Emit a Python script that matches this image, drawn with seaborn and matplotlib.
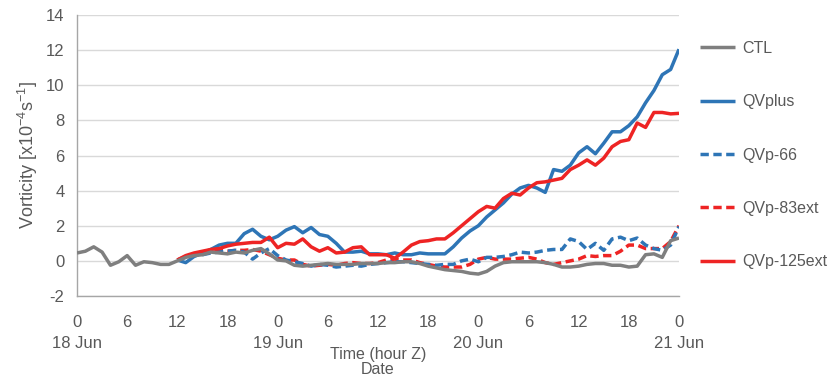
import numpy as np
import pandas as pd
import matplotlib
matplotlib.use("Agg")
import matplotlib.pyplot as plt
import seaborn as sns

# Hourly vorticity (x10^-4 s^-1), 18 Jun 00Z .. 21 Jun 00Z
hours = list(range(0, 73))

ctl = [0.45, 0.55, 0.8, 0.5, -0.25, -0.05, 0.3, -0.25, -0.05, -0.1, -0.2, -0.2,
       0.0, 0.2, 0.3, 0.35, 0.5, 0.45, 0.4, 0.5, 0.45, 0.6, 0.7, 0.4,
       0.05, 0.0, -0.25, -0.3, -0.25, -0.2, -0.15, -0.2, -0.2, -0.2, -0.15, -0.15,
       -0.15, -0.1, -0.1, -0.05, -0.05, -0.15, -0.3, -0.4, -0.5, -0.55, -0.6, -0.7,
       -0.75, -0.6, -0.3, -0.1, -0.05, -0.05, -0.05, -0.05, -0.1, -0.2, -0.35, -0.35,
       -0.3, -0.2, -0.15, -0.15, -0.25, -0.25, -0.35, -0.3, 0.35, 0.4, 0.2, 1.15,
       1.3]

# Sensitivity runs start from 18 Jun 12Z
start_hour = 12

qvplus = [0.05, -0.1, 0.25, 0.45, 0.65, 0.9, 1.0, 1.0, 1.55, 1.8, 1.4, 1.2,
          1.4, 1.75, 1.95, 1.6, 1.9, 1.5, 1.4, 1.0, 0.5, 0.5, 0.55, 0.4,
          0.4, 0.35, 0.45, 0.35, 0.35, 0.45, 0.4, 0.4, 0.4, 0.8, 1.3, 1.7,
          2.0, 2.5, 2.9, 3.3, 3.8, 4.15, 4.3, 4.15, 3.9, 5.2, 5.1, 5.45,
          6.15, 6.5, 6.1, 6.7, 7.35, 7.35, 7.7, 8.2, 9.0, 9.7, 10.6, 10.9,
          12.05]

qvp_66 = [0.05, 0.2, 0.3, 0.35, 0.45, 0.5, 0.55, 0.6, 0.5, 0.1, 0.45, 0.7,
          0.3, 0.05, -0.05, -0.15, -0.3, -0.2, -0.25, -0.35, -0.3, -0.25, -0.3, -0.2,
          -0.15, -0.1, -0.05, -0.05, -0.1, -0.15, -0.2, -0.25, -0.2, -0.2, 0.0, 0.1,
          -0.05, 0.2, 0.2, 0.25, 0.35, 0.5, 0.45, 0.5, 0.6, 0.65, 0.65, 1.25,
          1.1, 0.65, 1.0, 0.6, 1.25, 1.35, 1.15, 1.3, 0.9, 0.7, 0.6, 0.9,
          1.95]

qvp_83ext = [0.05, 0.25, 0.35, 0.45, 0.5, 0.6, 0.55, 0.6, 0.6, 0.65, 0.55, 0.35,
             0.15, 0.05, 0.05, -0.2, -0.3, -0.25, -0.2, -0.25, -0.15, -0.1, -0.15, -0.15,
             -0.1, 0.05, 0.1, 0.05, 0.05, -0.1, -0.2, -0.3, -0.35, -0.35, -0.35, -0.2,
             0.1, 0.2, 0.1, 0.1, 0.1, 0.15, 0.2, 0.1, -0.1, -0.2, -0.1, 0.0,
             0.1, 0.3, 0.25, 0.3, 0.3, 0.55, 0.9, 0.9, 0.7, 0.7, 0.7, 1.1,
             2.0]

qvp_125ext = [0.05, 0.3, 0.45, 0.55, 0.65, 0.7, 0.85, 0.95, 1.0, 1.05, 1.05, 1.35,
              0.75, 1.0, 0.95, 1.25, 0.8, 0.55, 0.75, 0.45, 0.5, 0.75, 0.8, 0.35,
              0.35, 0.35, 0.15, 0.5, 0.9, 1.1, 1.15, 1.25, 1.25, 1.6, 2.0, 2.4,
              2.8, 3.1, 3.0, 3.55, 3.85, 3.75, 4.15, 4.45, 4.5, 4.6, 4.7, 5.2,
              5.45, 5.75, 5.45, 5.85, 6.5, 6.8, 6.9, 7.85, 7.6, 8.45, 8.45, 8.37,
              8.4]

run_names = ["CTL", "QVplus", "QVp-66", "QVp-83ext", "QVp-125ext"]
run_values = [ctl, qvplus, qvp_66, qvp_83ext, qvp_125ext]

major_ticks = list(range(0, 73, 6))
minor_ticks = list(range(0, 73, 3))
hour_labels = ["0", "6", "12", "18", "0", "6", "12", "18", "0", "6", "12", "18", "0"]
date_labels = {0: "18 Jun", 24: "19 Jun", 48: "20 Jun", 72: "21 Jun"}

# Build long-form table
frames = []
for name, vals in zip(run_names, run_values):
    hrs = hours if len(vals) == len(hours) else hours[start_hour:]
    frames.append(pd.DataFrame({"hour": hrs, "vorticity": vals, "run": name}))
df = pd.concat(frames, ignore_index=True)

styles = {
    "CTL": dict(color="#7F7F7F", dashes=None, z=6),
    "QVplus": dict(color="#2E75B6", dashes=None, z=4),
    "QVp-66": dict(color="#2E75B6", dashes=(2.4, 1.3), z=3),
    "QVp-83ext": dict(color="#EE2424", dashes=(2.4, 1.3), z=2),
    "QVp-125ext": dict(color="#EE2424", dashes=None, z=5),
}

sns.set_theme(style="white")
plt.rcParams["font.family"] = ["Liberation Sans", "DejaVu Sans"]
plt.rcParams["mathtext.fontset"] = "custom"
plt.rcParams["mathtext.rm"] = "Liberation Sans"
plt.rcParams["mathtext.it"] = "Liberation Sans"
plt.rcParams["mathtext.bf"] = "Liberation Sans:bold"
text_color = "#595959"
axis_color = "#A6A6A6"

fig = plt.figure(figsize=(8.3, 3.79), dpi=100)
ax = fig.add_axes([77 / 830, 1 - 296 / 379, (679 - 77) / 830, (296 - 15) / 379])

handles = {}
for name in run_names:
    st = styles[name]
    sub = df[df["run"] == name]
    sns.lineplot(data=sub, x="hour", y="vorticity", ax=ax, color=st["color"],
                 linewidth=2.5, legend=False, zorder=st["z"])
    line = ax.lines[-1]
    if st["dashes"] is not None:
        line.set_dashes(st["dashes"])
    line.set_solid_capstyle("butt")
    line.set_dash_capstyle("butt")
    handles[name] = line

ax.set_xlim(0, 72)
ax.set_ylim(-2, 14)
ax.set_yticks(np.arange(-2, 15, 2))
ax.set_yticklabels([str(v) for v in range(-2, 15, 2)])

ax.set_xticks(minor_ticks, minor=True)
ax.set_xticks(major_ticks)
ax.set_xticklabels([lab + ("\n" + date_labels[h] if h in date_labels else "")
                    for h, lab in zip(major_ticks, hour_labels)],
                   linespacing=1.45)

ax.grid(axis="y", color="#D9D9D9", linewidth=1.0)
ax.grid(axis="x", visible=False)
ax.set_axisbelow(True)

for side in ["top", "right"]:
    ax.spines[side].set_visible(False)
for side in ["left", "bottom"]:
    ax.spines[side].set_color(axis_color)
    ax.spines[side].set_linewidth(1.0)

ax.tick_params(axis="both", which="both", direction="out", color=axis_color,
               width=1.0, length=5, labelcolor=text_color, labelsize=12)
ax.tick_params(axis="x", which="both", pad=9)
ax.tick_params(axis="y", pad=4)

ax.set_xlabel("")
ax.set_ylabel(r"Vorticity [x10$^{-4}$s$^{-1}$]", color=text_color, fontsize=13,
              labelpad=4)

fig.text(378 / 830, 1 - 362 / 379, "Time (hour Z)\nDate", ha="center", va="center",
         color=text_color, fontsize=11.5, linespacing=1.05)

leg = ax.legend([handles[n] for n in run_names], run_names,
                loc="upper left", bbox_to_anchor=(700 / 830, 1 - 41 / 379),
                bbox_transform=fig.transFigure, frameon=False,
                handlelength=2.2, handletextpad=0.45, labelspacing=2.4,
                borderpad=0, borderaxespad=0, fontsize=11.5)
for t in leg.get_texts():
    t.set_color(text_color)

fig.savefig("out.png", dpi=100, facecolor="white")
